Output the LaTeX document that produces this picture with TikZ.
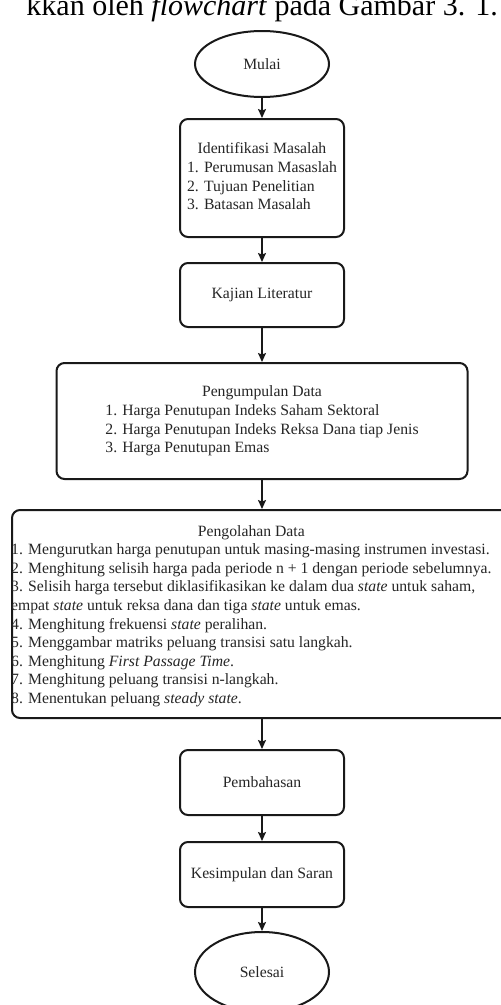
\documentclass[tikz,border=0pt]{standalone}
\usepackage{fontspec}
\setmainfont{Liberation Serif}
\usetikzlibrary{arrows.meta,shapes.geometric}
\begin{document}
\begin{tikzpicture}[x=1pt,y=-1pt,
  boxfont/.style={font=\fontsize{15.7}{18.6}\selectfont, text=black!85},
  box/.style={draw=black!90, line width=2pt, rounded corners=8pt, inner sep=0pt, boxfont},
  term/.style={ellipse, draw=black!90, line width=2pt, inner sep=0pt, boxfont},
  flow/.style={draw=black!90, line width=1.4pt, -{Stealth[length=9pt,width=8pt,inset=1.5pt]}}]
\clip (0,0) rectangle (501,1005);
\fill[white] (0,0) rectangle (501,1005);

% running text line above the chart
\node[anchor=base east, inner sep=0pt, text=black] (lead) at (498,15)
  {\fontsize{30}{36}\selectfont kkan oleh \textit{flowchart} pada Gambar 3. 1.};

% terminals and process boxes
\node[term, minimum width=134pt, minimum height=66pt] (mulai) at (262,64) {Mulai};

\node[box, minimum width=164pt, minimum height=118pt] (ident) at (262,178)
  {\begin{tabular}{@{}l@{}}\multicolumn{1}{@{}c@{}}{Identifikasi Masalah}\\
   1. Perumusan Masaslah\\ 2. Tujuan Penelitian\\ 3. Batasan Masalah\end{tabular}};

\node[box, minimum width=164pt, minimum height=64pt] (kajian) at (262,295) {Kajian Literatur};

\node[box, minimum width=411pt, minimum height=116pt] (kumpul) at (262,421)
  {\begin{tabular}{@{}l@{}}\multicolumn{1}{@{}c@{}}{Pengumpulan Data}\\
   1. Harga Penutupan Indeks Saham Sektoral\\
   2. Harga Penutupan Indeks Reksa Dana tiap Jenis\\
   3. Harga Penutupan Emas\end{tabular}};

\node[box, minimum width=500pt, minimum height=208pt] (olah) at (262,614) {};
\node[boxfont, inner sep=0pt, anchor=west] (olahtxt) at (11,616)
  {\begin{tabular}{@{}l@{}}\multicolumn{1}{@{}c@{}}{Pengolahan Data}\\
   1. Mengurutkan harga penutupan untuk masing-masing instrumen investasi.\\
   2. Menghitung selisih harga pada periode n + 1 dengan periode sebelumnya.\\
   3. Selisih harga tersebut diklasifikasikan ke dalam dua \textit{state} untuk saham,\\
   empat \textit{state} untuk reksa dana dan tiga \textit{state} untuk emas.\\
   4. Menghitung frekuensi \textit{state} peralihan.\\
   5. Menggambar matriks peluang transisi satu langkah.\\
   6. Menghitung \textit{First Passage Time}.\\
   7. Menghitung peluang transisi n-langkah.\\
   8. Menentukan peluang \textit{steady state}.\end{tabular}};

\node[box, minimum width=164pt, minimum height=65pt] (bahas) at (262,782.5) {Pembahasan};
\node[box, minimum width=164pt, minimum height=65pt] (simpul) at (262,874.5) {Kesimpulan dan Saran};
\node[term, minimum width=134pt, minimum height=80pt] (selesai) at (262,972) {Selesai};

% connectors
\draw[flow] (mulai) -- (ident);
\draw[flow] (ident) -- (kajian);
\draw[flow] (kajian) -- (kumpul);
\draw[flow] (kumpul) -- (olah);
\draw[flow] (olah) -- (bahas);
\draw[flow] (bahas) -- (simpul);
\draw[flow] (simpul) -- (selesai);
\end{tikzpicture}
\end{document}
